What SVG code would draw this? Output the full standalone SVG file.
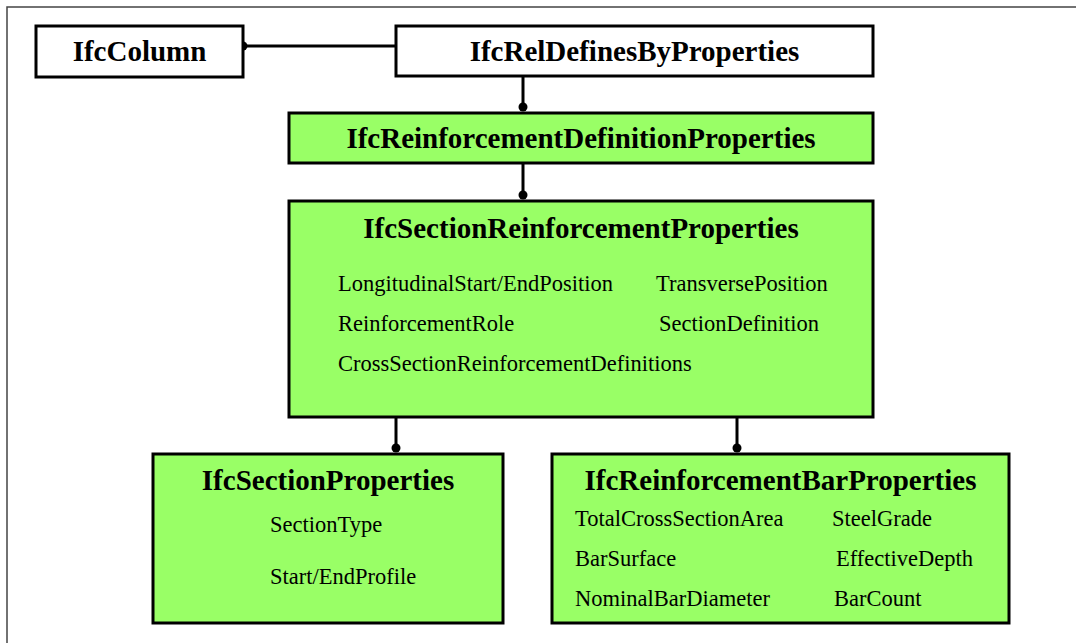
<svg xmlns="http://www.w3.org/2000/svg" width="1076" height="643" viewBox="0 0 1076 643">
<style>
.box{stroke:#000;stroke-width:3}
.white{fill:#fff}
.green{fill:#99ff66}
.title{font-family:"Liberation Serif","Times New Roman",serif;font-weight:bold;font-size:29px;fill:#000;text-anchor:middle}
.prop{font-family:"Liberation Serif","Times New Roman",serif;font-size:22.5px;fill:#000}
.conn{stroke:#000;stroke-width:3;fill:none}
.dot{fill:#000}
</style>
<rect width="1076" height="643" fill="#fff"/>
<path d="M7,643 V7 H1076" fill="none" stroke="#444" stroke-width="1.5"/>
<g id="connectors">
<line class="conn" x1="243" y1="46" x2="396" y2="46"/>
<circle class="dot" cx="243" cy="46" r="4.5"/>
<line class="conn" x1="523" y1="76" x2="523" y2="107"/>
<circle class="dot" cx="523" cy="107" r="4.5"/>
<line class="conn" x1="523" y1="163" x2="523" y2="195"/>
<circle class="dot" cx="523" cy="195" r="4.5"/>
<line class="conn" x1="396" y1="417" x2="396" y2="448"/>
<circle class="dot" cx="396" cy="448" r="4.5"/>
<line class="conn" x1="737" y1="417" x2="737" y2="448"/>
<circle class="dot" cx="737" cy="448" r="4.5"/>
</g>
<g id="IfcColumn">
<rect class="box white" x="36" y="26" width="207" height="51"/>
<text class="title" x="139.5" y="61">IfcColumn</text>
</g>
<g id="IfcRelDefinesByProperties">
<rect class="box white" x="396" y="26" width="477" height="50"/>
<text class="title" x="634.5" y="61">IfcRelDefinesByProperties</text>
</g>
<g id="IfcReinforcementDefinitionProperties">
<rect class="box green" x="289" y="113" width="584" height="50"/>
<text class="title" x="581" y="148">IfcReinforcementDefinitionProperties</text>
</g>
<g id="IfcSectionReinforcementProperties">
<rect class="box green" x="289" y="201" width="584" height="216"/>
<text class="title" x="581" y="238">IfcSectionReinforcementProperties</text>
<text class="prop" x="338" y="291">LongitudinalStart/EndPosition</text>
<text class="prop" x="656" y="291">TransversePosition</text>
<text class="prop" x="338" y="331">ReinforcementRole</text>
<text class="prop" x="659" y="331">SectionDefinition</text>
<text class="prop" x="338" y="371">CrossSectionReinforcementDefinitions</text>
</g>
<g id="IfcSectionProperties">
<rect class="box green" x="153" y="454" width="350" height="169"/>
<text class="title" x="328" y="490">IfcSectionProperties</text>
<text class="prop" x="270" y="532">SectionType</text>
<text class="prop" x="270" y="584">Start/EndProfile</text>
</g>
<g id="IfcReinforcementBarProperties">
<rect class="box green" x="552" y="454" width="457" height="169"/>
<text class="title" x="780.5" y="490">IfcReinforcementBarProperties</text>
<text class="prop" x="575" y="526">TotalCrossSectionArea</text>
<text class="prop" x="832" y="526">SteelGrade</text>
<text class="prop" x="575" y="566">BarSurface</text>
<text class="prop" x="836" y="566">EffectiveDepth</text>
<text class="prop" x="575" y="606">NominalBarDiameter</text>
<text class="prop" x="834" y="606">BarCount</text>
</g>
</svg>
